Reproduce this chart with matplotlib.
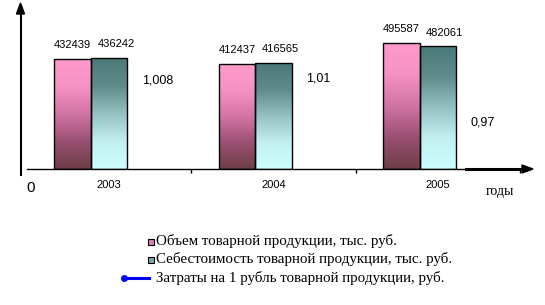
import numpy as np
import matplotlib.pyplot as plt
from matplotlib.colors import LinearSegmentedColormap
from matplotlib.patches import Rectangle
from matplotlib.lines import Line2D

years = ['2003', '2004', '2005']
volume = [432439, 412437, 495587]      # Объем товарной продукции
cost = [436242, 416565, 482061]        # Себестоимость товарной продукции
per_rub = [1.008, 1.01, 0.97]          # Затраты на 1 рубль
per_rub_txt = ['1,008', '1,01', '0,97']
legend_labels = ['Объем товарной продукции, тыс. руб.',
                 'Себестоимость товарной продукции, тыс. руб.',
                 'Затраты на 1 рубль товарной продукции, руб.']

W, H = 545, 305
fig = plt.figure(figsize=(W / 100, H / 100), dpi=100)


def fx(px):
    return px / W


def fy(py):
    return 1 - py / H


ax = fig.add_axes([fx(27), fy(169), fx(520) - fx(27), fy(5) - fy(169)])

pink_cmap = LinearSegmentedColormap.from_list(
    'pink', ['#ff9acb', '#f592c4', '#d274a4', '#9a5072', '#6e3d48'])
teal_cmap = LinearSegmentedColormap.from_list(
    'teal', ['#4a7a78', '#5f8c8a', '#94c2c2', '#c2f0f0', '#ccffff'])

bw = 0.222
x = np.arange(len(years))
grad = np.linspace(0, 1, 256).reshape(-1, 1)


def gbar(xc, h, cmap):
    rect = Rectangle((xc - bw / 2, 0), bw, h, facecolor='none',
                     edgecolor='black', lw=1.0, zorder=3)
    ax.add_patch(rect)
    im = ax.imshow(grad, cmap=cmap, aspect='auto', zorder=2,
                   extent=[xc - bw / 2, xc + bw / 2, 0, h], origin='upper')
    im.set_clip_path(rect)


for i in range(len(years)):
    gbar(x[i] - bw, volume[i], pink_cmap)
    gbar(x[i], cost[i], teal_cmap)
    ax.annotate(str(volume[i]), (x[i] - bw, volume[i]), xytext=(0, 10),
                textcoords='offset points', ha='center', va='center',
                fontsize=8, family='Liberation Sans')
    ax.annotate(str(cost[i]), (x[i], cost[i]), xytext=(5, 10),
                textcoords='offset points', ha='center', va='center',
                fontsize=8, family='Liberation Sans')

ax.set_xlim(-0.5, 2.5)
ax.set_ylim(0, 645000)

for s in ['top', 'right', 'left']:
    ax.spines[s].set_visible(False)
ax.spines['bottom'].set_linewidth(1.0)
ax.set_yticks([])
ax.set_xticks([0.5, 1.5, 2.5])
ax.set_xticklabels([])
ax.tick_params(axis='x', length=3, width=1, direction='out')
ax.set_xticks(x, minor=True)
ax.set_xticklabels(years, minor=True, fontsize=8, family='Liberation Sans')
ax.tick_params(axis='x', which='minor', length=0, pad=8)
ax.patch.set_alpha(0)

# secondary axis for cost per rouble
ax2 = ax.twinx()
ax2.set_ylim(0.9273, 1.0764)
ax2.plot(x, per_rub, color='#0000ff', lw=2, alpha=0)
for i in range(len(years)):
    ax2.text(x[i] + 0.2, per_rub[i], per_rub_txt[i], ha='left', va='center',
             fontsize=9, family='Liberation Sans')
ax2.axis('off')

# axis arrows
fig.add_artist(Line2D([fx(20.5), fx(20.5)], [fy(175), fy(14)], color='black', lw=1.5))
fig.add_artist(plt.Polygon([[fx(16.5), fy(14)], [fx(24.5), fy(14)], [fx(20.5), fy(3)]],
                           closed=True, color='black'))
fig.add_artist(Line2D([fx(466), fx(523)], [fy(169), fy(169)], color='black', lw=2.2))
fig.add_artist(plt.Polygon([[fx(522), fy(165)], [fx(522), fy(173)], [fx(533), fy(169)]],
                           closed=True, color='black'))

fig.text(fx(31), fy(188), '0', ha='center', va='center', fontsize=11,
         family='Liberation Sans')
fig.text(fx(500), fy(191), 'годы', ha='center', va='center', fontsize=10,
         family='Liberation Serif')

# legend
rows = [241, 259, 278]
fig.add_artist(Rectangle((fx(147.5), fy(245)), fx(6), 6 / H, facecolor='#e07fb0',
                         edgecolor='black', lw=0.8))
fig.add_artist(Rectangle((fx(147.5), fy(263)), fx(6), 6 / H, facecolor='#7aa8a6',
                         edgecolor='black', lw=0.8))
fig.add_artist(Line2D([fx(124), fx(149)], [fy(278), fy(278)], color='#0000ff', lw=2.2,
                      marker='o', markevery=[0], markersize=4))
for r, lab in zip(rows, legend_labels):
    fig.text(fx(156), fy(r), lab, ha='left', va='center', fontsize=10.8,
             family='Liberation Serif')

fig.savefig('out.png', dpi=100)
